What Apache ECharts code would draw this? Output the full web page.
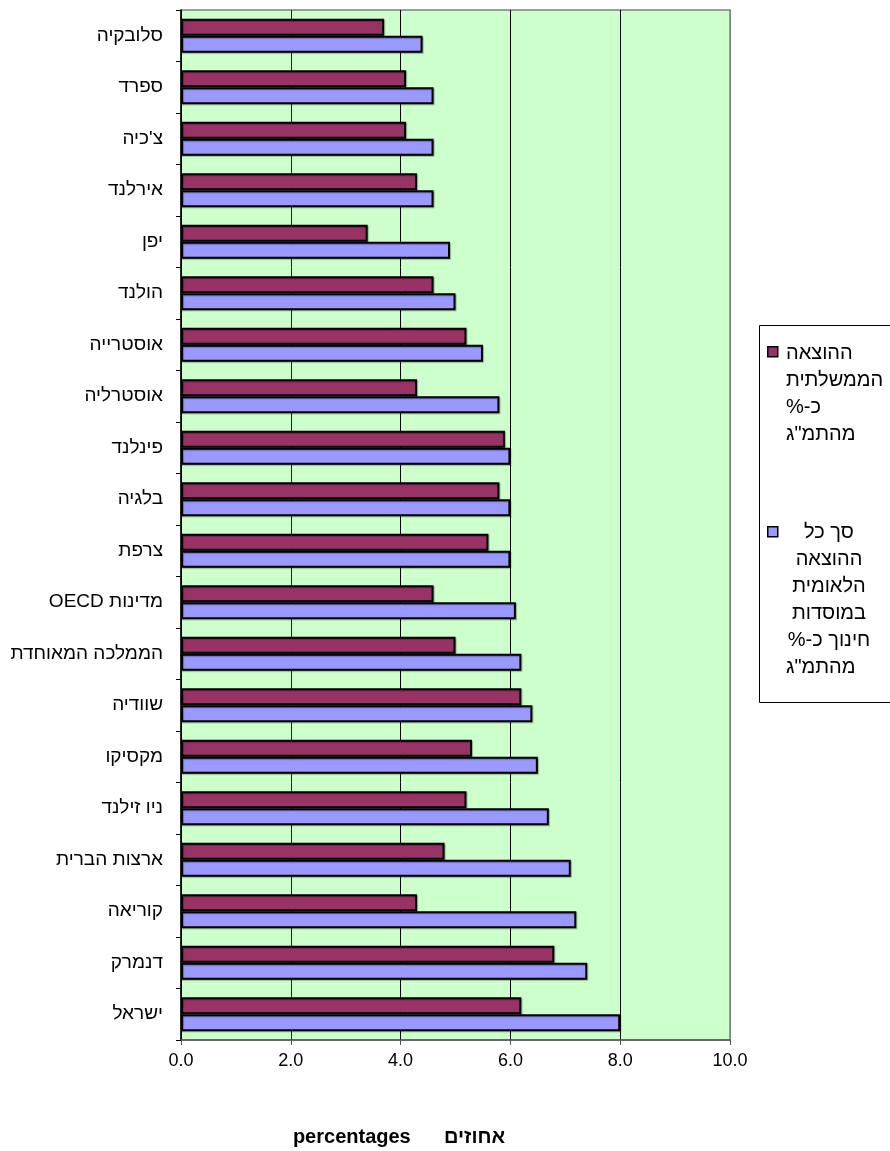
<!DOCTYPE html>
<html>
<head>
<meta charset="utf-8">
<script src="https://cdn.jsdelivr.net/npm/echarts@6/dist/echarts.min.js"></script>
<style>
html,body{margin:0;padding:0;background:#fff;}
#chart{width:890px;height:1151px;}
</style>
</head>
<body>
<div id="chart" dir="rtl"></div>
<script>
const categories = ["סלובקיה","ספרד","צ'כיה","אירלנד","יפן","הולנד","אוסטרייה","אוסטרליה","פינלנד","בלגיה","צרפת","מדינות OECD","הממלכה המאוחדת","שוודיה","מקסיקו","ניו זילנד","ארצות הברית","קוריאה","דנמרק","ישראל"];
const governmentSpending = [3.7,4.1,4.1,4.3,3.4,4.6,5.2,4.3,5.9,5.8,5.6,4.6,5.0,6.2,5.3,5.2,4.8,4.3,6.8,6.2];
const totalNationalSpending = [4.4,4.6,4.6,4.6,4.9,5.0,5.5,5.8,6.0,6.0,6.0,6.1,6.2,6.4,6.5,6.7,7.1,7.2,7.4,8.0];
const seriesNames = ["ההוצאה הממשלתית כ-% מהתמ\"ג","סך כל ההוצאה הלאומית במוסדות חינוך כ-% מהתמ\"ג"];
const legendLines1 = ["ההוצאה","הממשלתית","כ-%","מהתמ\"ג"];
const legendLines2 = ["סך כל","ההוצאה","הלאומית","במוסדות","חינוך כ-%","מהתמ\"ג"];
const xTitle = "אחוזים      percentages";

const FONT = "'Liberation Sans', Arial, sans-serif";
const chart = echarts.init(document.getElementById('chart'), null, {renderer:'canvas'});

const graphics = [];
graphics.push({type:'rect', left:759, top:325, shape:{width:140, height:377}, style:{fill:'#fff', stroke:'#000', lineWidth:1}, z:10});
graphics.push({type:'rect', left:767, top:346, shape:{width:10, height:10}, style:{fill:'#993366', stroke:'#000', lineWidth:1.5}, z:11});
graphics.push({type:'rect', left:767, top:526, shape:{width:10, height:10}, style:{fill:'#9999FF', stroke:'#000', lineWidth:1.5}, z:11});
legendLines1.forEach((t,i)=>{
  graphics.push({type:'text', x:786, y:353 + i*27, style:{text:t, fill:'#000', font:'20px ' + FONT, textAlign:'left', textVerticalAlign:'middle'}, z:11});
});
legendLines2.forEach((t,i)=>{
  const last = i === legendLines2.length - 1;
  graphics.push({type:'text', x: last ? 786 : 829, y:532 + i*27, style:{text:t, fill:'#000', font:'20px ' + FONT, textAlign: last ? 'left' : 'center', textVerticalAlign:'middle'}, z:11});
});
graphics.push({type:'text', x:399, y:1137, style:{text:xTitle, fill:'#000', font:'bold 20px ' + FONT, textAlign:'center', textVerticalAlign:'middle'}, z:11});

const barStyle = (c)=>({color:c, borderColor:'#000', borderWidth:2, shadowColor:'rgba(0,0,0,0.3)', shadowBlur:1, shadowOffsetX:1, shadowOffsetY:1});

chart.setOption({
  animation:false,
  backgroundColor:'#fff',
  textStyle:{fontFamily:FONT},
  grid:{left:181, right:160, top:10, bottom:111, show:true, backgroundColor:'#CCFFCC', borderColor:'#808080', borderWidth:1.5, containLabel:false},
  xAxis:{
    type:'value', min:0, max:10, interval:2,
    axisLine:{show:true, lineStyle:{color:'#555', width:1.5}},
    axisTick:{show:true, length:5, lineStyle:{color:'#555'}},
    axisLabel:{fontSize:18, color:'#000', margin:12, formatter:(v)=>v.toFixed(1), fontFamily:FONT},
    splitLine:{show:true, lineStyle:{color:['#000','#222','#000','#000','#000','#808080'], width:1}}
  },
  yAxis:{
    type:'category', inverse:true, data:categories,
    axisLine:{show:true, lineStyle:{color:'#000', width:1.5}},
    axisTick:{show:true, length:5, lineStyle:{color:'#000'}},
    axisLabel:{fontSize:19, color:'#000', margin:18, fontFamily:FONT, padding:[4,0,0,0]},
    splitLine:{show:false}
  },
  series:[
    {name:seriesNames[0], type:'bar', data:governmentSpending, barWidth:17, barGap:'0%', itemStyle:barStyle('#993366')},
    {name:seriesNames[1], type:'bar', data:totalNationalSpending, barWidth:17, barGap:'0%', itemStyle:barStyle('#9999FF')}
  ],
  graphic:graphics
});
</script>
</body>
</html>
